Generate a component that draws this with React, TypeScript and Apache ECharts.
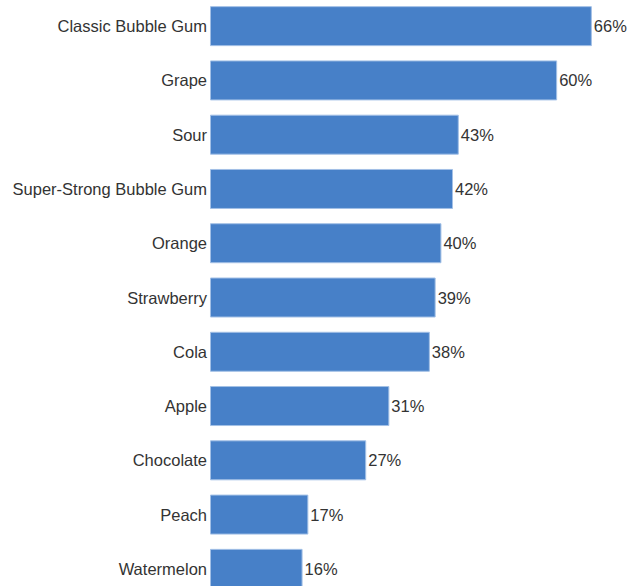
import React, { useEffect, useRef } from "react";
import * as echarts from "echarts";

const categories = [
  "Classic Bubble Gum",
  "Grape",
  "Sour",
  "Super-Strong Bubble Gum",
  "Orange",
  "Strawberry",
  "Cola",
  "Apple",
  "Chocolate",
  "Peach",
  "Watermelon",
];
const values = [66, 60, 43, 42, 40, 39, 38, 31, 27, 17, 16];

export default function App() {
  const ref = useRef<HTMLDivElement>(null);
  useEffect(() => {
    if (!ref.current) return;
    const chart = echarts.init(ref.current, undefined, { renderer: "svg" });
    chart.setOption({
      animation: false,
      grid: { left: 210, top: 0, width: 405, height: 597, containLabel: false },
      xAxis: {
        type: "value",
        min: 0,
        max: 70,
        show: false,
      },
      yAxis: {
        type: "category",
        data: categories,
        inverse: true,
        axisLine: { show: false },
        axisTick: { show: false },
        axisLabel: {
          margin: 3,
          fontSize: 16.5,
          color: "#333333",
          fontFamily: "Liberation Sans, Arial, sans-serif",
        },
      },
      series: [
        {
          type: "bar",
          data: values,
          barWidth: 40,
          itemStyle: { color: "#4780c8", borderColor: "#a3c0e6", borderWidth: 1 },
          label: {
            show: true,
            position: "right",
            distance: 2,
            formatter: "{c}%",
            fontSize: 16.5,
            color: "#333333",
            fontFamily: "Liberation Sans, Arial, sans-serif",
          },
        },
      ],
    });
    return () => chart.dispose();
  }, []);
  return (
    <div
      style={{ position: "fixed", left: 0, top: 0, width: 635, height: 586, overflow: "hidden", background: "#fff" }}
    >
      <div ref={ref} style={{ position: "absolute", left: 0, top: -1, width: 635, height: 620 }} />
    </div>
  );
}
